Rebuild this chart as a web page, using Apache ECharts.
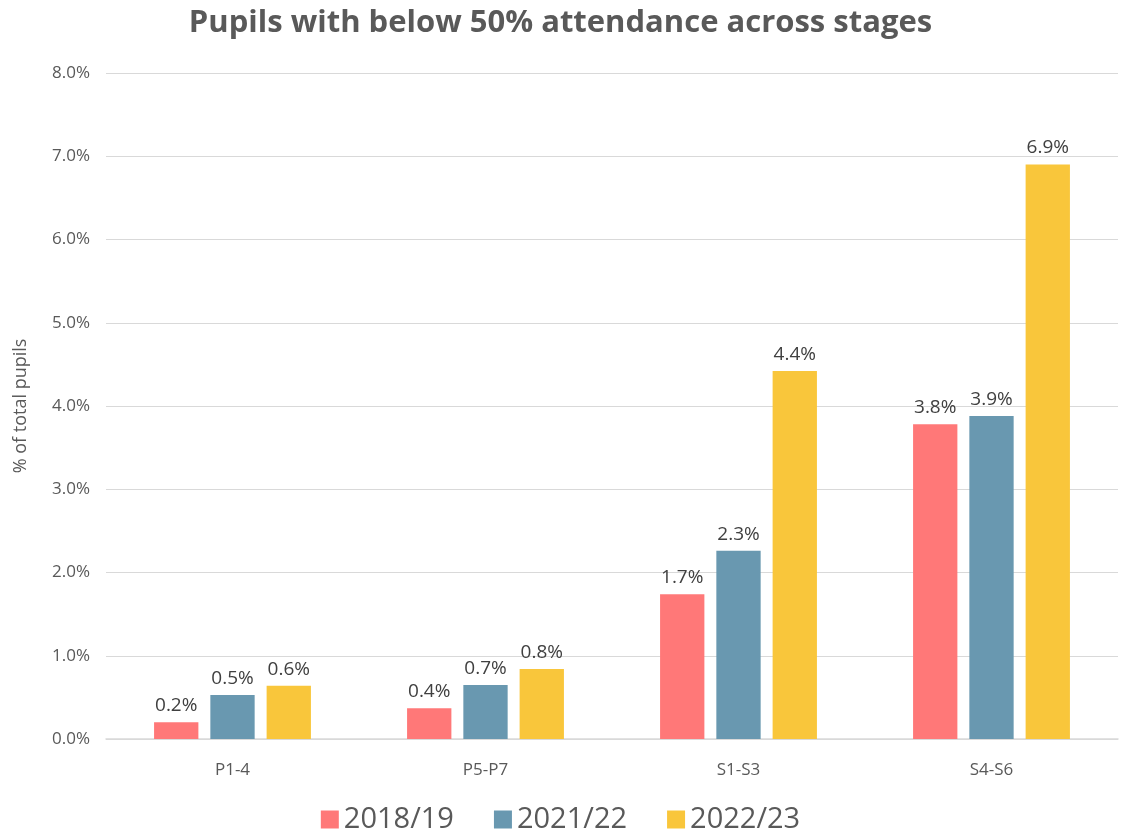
<!DOCTYPE html>
<html><head><meta charset="utf-8">
<script src="https://cdn.jsdelivr.net/npm/echarts@6/dist/echarts.min.js"></script>
<style>html,body{margin:0;padding:0;background:#fff}#c{width:1121px;height:839px}</style>
</head><body><div id="c"></div>
<script>
const categories = ['P1-4', 'P5-P7', 'S1-S3', 'S4-S6'];
const seriesNames = ['2018/19', '2021/22', '2022/23'];
const values2018 = [0.20, 0.37, 1.74, 3.78];
const values2021 = [0.53, 0.65, 2.26, 3.88];
const values2022 = [0.64, 0.84, 4.42, 6.90];
const colors = ['#FF7878', '#6998B0', '#F9C63B'];
const FONT = '"Open Sans", "Noto Sans", sans-serif';

const chart = echarts.init(document.getElementById('c'));
const mk = (name, data, color) => ({
  name, type: 'bar', data,
  itemStyle: { color },
  barGap: '27%', barCategoryGap: '38%',
  label: { show: true, position: 'top', distance: 7, color: '#404040', fontSize: 19, fontFamily: FONT,
    formatter: p => p.value.toFixed(1) + '%' }
});
chart.setOption({
  animation: false,
  title: { text: 'Pupils with below 50% attendance across stages', left: 'center', top: 3,
    textStyle: { fontSize: 31, fontWeight: 'bold', color: '#595959', fontFamily: FONT } },
  legend: { bottom: 0, left: 'center', itemWidth: 18, itemHeight: 18, itemGap: 40, icon: 'rect',
    textStyle: { fontSize: 29, color: '#595959', fontFamily: FONT } },
  grid: { left: 106, right: 3, top: 73, bottom: 100 },
  xAxis: { type: 'category', data: categories,
    axisLine: { lineStyle: { color: '#D9D9D9', width: 1.5 } }, axisTick: { show: false },
    axisLabel: { color: '#595959', fontSize: 17, margin: 23, fontFamily: FONT } },
  yAxis: { type: 'value', min: 0, max: 8, interval: 1,
    name: '% of total pupils', nameLocation: 'middle', nameGap: 76, nameRotate: 90,
    nameTextStyle: { color: '#595959', fontSize: 18, fontFamily: FONT },
    axisLabel: { color: '#595959', fontSize: 17, margin: 16, fontFamily: FONT, formatter: v => v.toFixed(1) + '%' },
    splitLine: { lineStyle: { color: '#D9D9D9', width: 1.2 } } },
  series: [mk(seriesNames[0], values2018, colors[0]), mk(seriesNames[1], values2021, colors[1]), mk(seriesNames[2], values2022, colors[2])]
});
</script></body></html>
